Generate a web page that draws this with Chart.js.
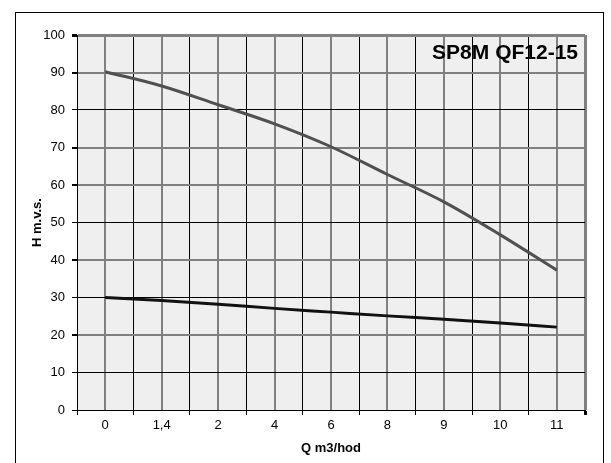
<!DOCTYPE html>
<html>
<head>
<meta charset="utf-8">
<script src="https://cdn.jsdelivr.net/npm/chart.js@4/dist/chart.umd.min.js"></script>
<style>
  html, body { margin: 0; padding: 0; background: #fff; }
  #wrap { position: relative; width: 611px; height: 463px; overflow: hidden; }
  #frame { position: absolute; left: 15px; top: 12px; width: 587px; height: 470px;
           border: 1px solid #000; border-bottom: none; }
  #pump-plot { position: absolute; left: 0; top: 0; }
</style>
</head>
<body>
<div id="wrap">
  <div id="frame"></div>
  <canvas id="pump-plot" width="611" height="463"></canvas>
</div>
<script>
// Q-H curve, SP8M QF12-15
const flowLabels = ['0', '1,4', '2', '4', '6', '8', '9', '10', '11'];
const headValues = [90.2, 86.4, 81.4, 76.3, 70.2, 62.8, 55.5, 46.7, 37.3];
const lowerValues = [30.0, 29.2, 28.2, 27.1, 26.1, 25.1, 24.2, 23.2, 22.1];
const yTicks = [0, 10, 20, 30, 40, 50, 60, 70, 80, 90, 100];
const chartTitle = 'SP8M QF12-15';

const GRAY = '#808080';
const BLACK = '#000000';
const grayRows = [20, 40, 60, 70, 90];

const toPoints = vals => vals.map((v, i) => ({ x: i, y: v }));

const plotBg = {
  id: 'plotBg',
  beforeDraw(chart) {
    const { ctx, chartArea: a } = chart;
    ctx.save();
    ctx.fillStyle = '#efefef';
    ctx.fillRect(a.left, a.top, a.right - a.left, a.bottom - a.top);
    ctx.restore();
  },
  afterDraw(chart) {
    const { ctx, chartArea: a } = chart;
    ctx.save();
    ctx.font = 'bold 21px "Liberation Sans", Arial, sans-serif';
    ctx.fillStyle = '#000';
    ctx.textAlign = 'right';
    ctx.textBaseline = 'middle';
    ctx.fillText(chartTitle, a.right - 7, a.top + 18);
    ctx.restore();
  }
};

new Chart('pump-plot', {
  type: 'line',
  data: {
    datasets: [{
      data: toPoints(headValues),
      borderColor: '#505050',
      borderWidth: 3,
      pointRadius: 0,
      cubicInterpolationMode: 'monotone'
    },
    {
      data: toPoints(lowerValues),
      borderColor: '#111111',
      borderWidth: 3,
      pointRadius: 0,
      cubicInterpolationMode: 'monotone'
    }]
  },
  options: {
    responsive: false,
    animation: false,
    layout: {
      padding: { top: 35, right: 26, left: 0, bottom: 0 }
    },
    plugins: {
      legend: { display: false },
      tooltip: { enabled: false }
    },
    scales: {
      x: {
        type: 'linear',
        min: -0.5,
        max: flowLabels.length - 0.5,
        afterFit: s => { s.height = 53; },
        ticks: {
          stepSize: 0.5,
          autoSkip: false,
          maxRotation: 0,
          padding: 3,
          color: '#000',
          font: { family: '"Liberation Sans", Arial', size: 13 },
          callback: v => Number.isInteger(v) ? flowLabels[v] : ''
        },
        grid: {
          tickLength: 5,
          color: c => {
            const v = c.tick ? c.tick.value : 0;
            if (v === flowLabels.length - 0.5) return GRAY;
            return Number.isInteger(v) ? GRAY : BLACK;
          },
          lineWidth: c => {
            const v = c.tick ? c.tick.value : 0;
            if (v === flowLabels.length - 0.5) return 3;
            return Number.isInteger(v) ? 2 : 1;
          },
          tickColor: c => Number.isInteger(c.tick ? c.tick.value : 0) ? 'rgba(0,0,0,0)' : BLACK
        },
        border: { color: BLACK, width: 1 },
        title: {
          display: true,
          text: 'Q m3/hod',
          color: '#000',
          padding: { top: 0, bottom: 7 },
          font: { family: '"Liberation Sans", Arial', size: 13, weight: 'bold' }
        }
      },
      y: {
        min: 0,
        max: 100,
        afterFit: s => { s.width = 77; },
        afterBuildTicks: s => { s.ticks = yTicks.map(v => ({ value: v })); },
        ticks: {
          padding: 7,
          color: '#000',
          font: { family: '"Liberation Sans", Arial', size: 13 }
        },
        grid: {
          tickLength: 5,
          tickColor: BLACK,
          color: c => {
            const v = c.tick ? c.tick.value : 0;
            if (v === 100) return GRAY;
            return grayRows.includes(v) ? GRAY : BLACK;
          },
          lineWidth: c => {
            const v = c.tick ? c.tick.value : 0;
            if (v === 100) return 3;
            return grayRows.includes(v) ? 2 : 1;
          }
        },
        border: { color: BLACK, width: 1 },
        title: {
          display: true,
          text: 'H m.v.s.',
          color: '#000',
          padding: { top: 30, bottom: 0 },
          font: { family: '"Liberation Sans", Arial', size: 13, weight: 'bold' }
        }
      }
    }
  },
  plugins: [plotBg]
});
</script>
</body>
</html>
